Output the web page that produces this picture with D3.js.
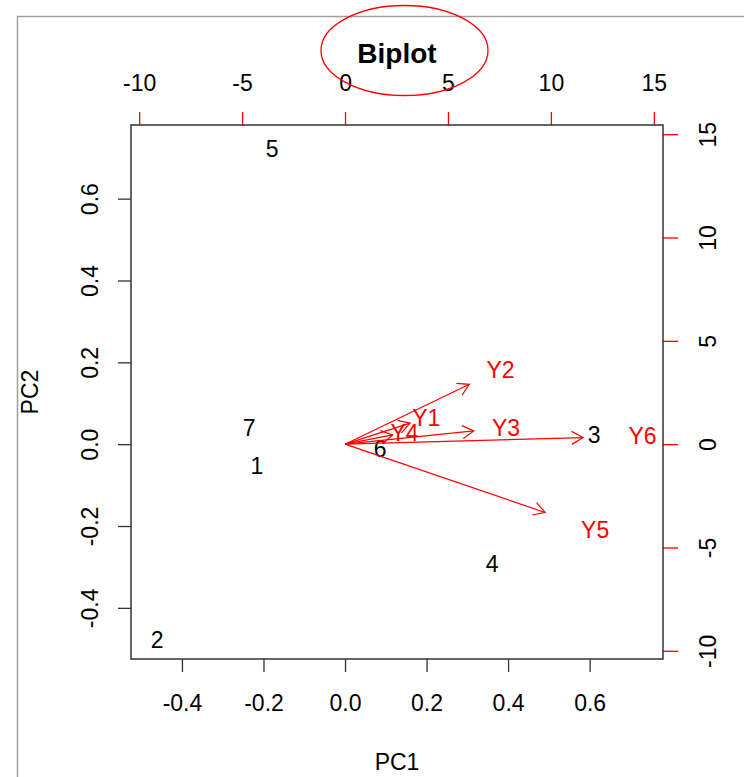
<!DOCTYPE html>
<meta charset="utf-8">
<style>
body { margin: 0; background: #fff; }
text { font-family: "Liberation Sans", Arial, sans-serif; }
</style>
<body>
<script src="https://cdn.jsdelivr.net/npm/d3@7"></script>
<script>
// observation scores (PC1, PC2)
var obsLabels = ["1", "2", "3", "4", "5", "6", "7"],
    pc1 = [-0.216, -0.461, 0.611, 0.361, -0.179, 0.086, -0.235],
    pc2 = [-0.053, -0.478, 0.022, -0.293, 0.722, -0.012, 0.040];
// variable loadings (label positions, secondary axes)
var varLabels = ["Y1", "Y2", "Y3", "Y4", "Y5", "Y6"],
    load1 = [3.95, 7.55, 7.82, 2.89, 12.15, 14.45],
    load2 = [1.27, 3.62, 0.80, 0.56, -4.13, 0.40];
var ticksPC = [-0.4, -0.2, 0, 0.2, 0.4, 0.6],
    ticksLoad = [-10, -5, 0, 5, 10, 15];
var lims = [-0.525, 0.78], ratio = 0.0505;

var W = 744, H = 777;
var margin = {top: 125, right: 81, bottom: 118, left: 131},
    width = W - margin.left - margin.right,
    height = H - margin.top - margin.bottom;
var fs = 23;

var x = d3.scaleLinear().domain(lims).range([0, width]),
    y = d3.scaleLinear().domain(lims).range([height, 0]),
    x2 = d3.scaleLinear().domain(lims.map(function(d) { return d / ratio; })).range([0, width]),
    y2 = d3.scaleLinear().domain(lims.map(function(d) { return d / ratio; })).range([height, 0]);

var svg = d3.select("body").append("svg")
    .attr("width", W)
    .attr("height", H);

// outer grey frame of the screenshot
svg.append("rect")
    .attr("x", 17.5).attr("y", 16.5)
    .attr("width", W).attr("height", H)
    .attr("fill", "none")
    .attr("stroke", "#a0a0a0")
    .attr("stroke-width", 1.5);

var g = svg.append("g")
    .attr("transform", "translate(" + margin.left + "," + margin.top + ")");

var fmt1 = function(d) { return d.toFixed(1); },
    fmt0 = function(d) { return String(d); };

// bottom axis
var gx = g.append("g")
    .attr("transform", "translate(0," + height + ")")
    .call(d3.axisBottom(x).tickValues(ticksPC).tickSize(13).tickPadding(23).tickFormat(fmt1));
// left axis
var gy = g.append("g")
    .call(d3.axisLeft(y).tickValues(ticksPC).tickSize(13).tickFormat(fmt1));
// top axis (loadings)
var gx2 = g.append("g")
    .call(d3.axisTop(x2).tickValues(ticksLoad).tickSize(13).tickPadding(21).tickFormat(fmt0));
// right axis (loadings)
var gy2 = g.append("g")
    .attr("transform", "translate(" + width + ",0)")
    .call(d3.axisRight(y2).tickValues(ticksLoad).tickSize(15).tickFormat(fmt0));

[gx, gy, gx2, gy2].forEach(function(a) {
  a.select(".domain").remove();
  a.selectAll("text")
      .attr("fill", "#000")
      .style("font-size", fs + "px")
      .style("font-family", "'Liberation Sans', Arial, sans-serif");
});
gx.selectAll("line").attr("stroke", "#333").attr("stroke-width", 1.3);
gy.selectAll("line").attr("stroke", "#333").attr("stroke-width", 1.3);
gx2.selectAll("line").attr("stroke", "#ff0000").attr("stroke-width", 1.3);
gy2.selectAll("line").attr("stroke", "#ff0000").attr("stroke-width", 1.3);

gy.selectAll(".tick text")
    .attr("transform", "rotate(-90)")
    .attr("x", 0).attr("y", -33).attr("dy", 0)
    .style("text-anchor", "middle");
gy2.selectAll(".tick text")
    .attr("transform", "rotate(-90)")
    .attr("x", 0).attr("y", 53).attr("dy", 0)
    .style("text-anchor", "middle");

// observation labels
g.append("g").selectAll("text")
    .data(obsLabels)
    .enter().append("text")
    .attr("x", function(d, i) { return x(pc1[i]); })
    .attr("y", function(d, i) { return y(pc2[i]); })
    .attr("dy", "0.36em")
    .attr("text-anchor", "middle")
    .attr("fill", "#000")
    .style("font-size", fs + "px")
    .text(function(d) { return d; });

// variable arrows, drawn to 0.8 of the label position
var arrows = g.append("g").attr("stroke", "#ff0000").attr("stroke-width", 1.2).attr("fill", "none");
varLabels.forEach(function(v, i) {
  var x0 = x2(0), y0 = y2(0),
      x1 = x2(0.8 * load1[i]), y1 = y2(0.8 * load2[i]);
  var a = Math.atan2(y1 - y0, x1 - x0), L = 13, h = Math.PI / 6;
  arrows.append("line")
      .attr("x1", x0).attr("y1", y0)
      .attr("x2", x1).attr("y2", y1);
  arrows.append("polyline")
      .attr("points", [
        [x1 - L * Math.cos(a - h), y1 - L * Math.sin(a - h)],
        [x1, y1],
        [x1 - L * Math.cos(a + h), y1 - L * Math.sin(a + h)]
      ].map(function(p) { return p.join(","); }).join(" "));
});

g.append("g").selectAll("text")
    .data(varLabels)
    .enter().append("text")
    .attr("x", function(d, i) { return x2(load1[i]); })
    .attr("y", function(d, i) { return y2(load2[i]); })
    .attr("dy", "0.36em")
    .attr("text-anchor", "middle")
    .attr("fill", "#ff0000")
    .style("font-size", fs + "px")
    .text(function(d) { return d; });

// plot box
g.append("rect")
    .attr("width", width)
    .attr("height", height)
    .attr("fill", "none")
    .attr("stroke", "#333")
    .attr("stroke-width", 1.5);

// titles
svg.append("text")
    .attr("x", margin.left + width / 2)
    .attr("y", 63)
    .attr("text-anchor", "middle")
    .style("font-size", "28px")
    .style("font-weight", "bold")
    .text("Biplot");

svg.append("text")
    .attr("x", margin.left + width / 2)
    .attr("y", 770)
    .attr("text-anchor", "middle")
    .style("font-size", fs + "px")
    .text("PC1");

svg.append("text")
    .attr("transform", "translate(38," + (margin.top + height / 2) + ") rotate(-90)")
    .attr("text-anchor", "middle")
    .style("font-size", fs + "px")
    .text("PC2");

// hand-drawn red ellipse around the title
svg.append("ellipse")
    .attr("cx", margin.left + width / 2 + 7.5)
    .attr("cy", 50.5)
    .attr("rx", 83.5)
    .attr("ry", 45)
    .attr("fill", "none")
    .attr("stroke", "#ff0000")
    .attr("stroke-width", 1.3);
</script>
